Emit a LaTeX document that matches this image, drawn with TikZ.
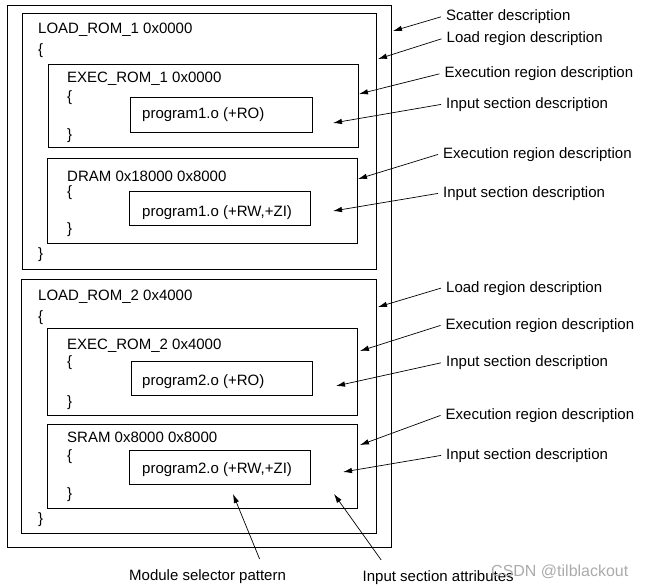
\documentclass[tikz,border=0pt]{standalone}
\usepackage{fontspec}
\setmainfont{Liberation Sans}
\usetikzlibrary{arrows.meta}
\begin{document}
\begin{tikzpicture}[x=1pt,y=-1pt,
  box/.style={draw,line width=1pt,inner sep=0pt,anchor=north west},
  txt/.style={inner sep=0pt,anchor=base west,font=\fontsize{15pt}{18pt}\selectfont},
  arr/.style={line width=0.7pt,-{Latex[length=9pt,width=5.5pt]}}]
\useasboundingbox (0,0) rectangle (645,586);
% boxes
\node[box,minimum width=384pt,minimum height=542pt] (outer) at (7,5) {};
\node[box,minimum width=354pt,minimum height=256pt] (load1) at (22,13) {};
\node[box,minimum width=310pt,minimum height=83pt] (exec1) at (48,64) {};
\node[box,minimum width=182pt,minimum height=35pt] (in1) at (130,97) {};
\node[box,minimum width=310pt,minimum height=85pt] (dram) at (47,158) {};
\node[box,minimum width=181pt,minimum height=34pt] (in2) at (129,191) {};
\node[box,minimum width=355pt,minimum height=254pt] (load2) at (21,279) {};
\node[box,minimum width=310pt,minimum height=87pt] (exec2) at (47,328) {};
\node[box,minimum width=181pt,minimum height=34pt] (in3) at (131,361) {};
\node[box,minimum width=310pt,minimum height=84pt] (sram) at (47,424) {};
\node[box,minimum width=181pt,minimum height=34pt] (in4) at (129,450) {};
% box texts
\node[txt] (l1t) at (38,34) {LOAD\_ROM\_1 0x0000};
\node[txt] (l1o) at (38,55) {\{};
\node[txt] (l1c) at (38,258) {\}};
\node[txt] (e1t) at (67,82.5) {EXEC\_ROM\_1 0x0000};
\node[txt] (e1o) at (67,101.5) {\{};
\node[txt] (e1c) at (67,139) {\}};
\node[txt] (p1) at (142,118.5) {program1.o (+RO)};
\node[txt] (d1t) at (67,181.5) {DRAM 0x18000 0x8000};
\node[txt] (d1o) at (67,196.5) {\{};
\node[txt] (d1c) at (67,233) {\}};
\node[txt] (p2) at (142,216.5) {program1.o (+RW,+ZI)};
\node[txt] (l2t) at (38,300.5) {LOAD\_ROM\_2 0x4000};
\node[txt] (l2o) at (38,321) {\{};
\node[txt] (l2c) at (38,523) {\}};
\node[txt] (e2t) at (67,349.3) {EXEC\_ROM\_2 0x4000};
\node[txt] (e2o) at (67,366.5) {\{};
\node[txt] (e2c) at (67,406.5) {\}};
\node[txt] (p3) at (142,385) {program2.o (+RO)};
\node[txt] (s1t) at (67,442.3) {SRAM 0x8000 0x8000};
\node[txt] (s1o) at (67,460) {\{};
\node[txt] (s1c) at (67,498) {\}};
\node[txt] (p4) at (142,473) {program2.o (+RW,+ZI)};
% labels
\node[txt] (a1) at (446,20.7) {Scatter description};
\node[txt] (a2) at (446.5,42.7) {Load region description};
\node[txt] (a3) at (444.5,77.7) {Execution region description};
\node[txt] (a4) at (446,108.3) {Input section description};
\node[txt] (a5) at (443,158.3) {Execution region description};
\node[txt] (a6) at (443,197.3) {Input section description};
\node[txt] (a7) at (446,292) {Load region description};
\node[txt] (a8) at (445.5,329.3) {Execution region description};
\node[txt] (a9) at (446,366.7) {Input section description};
\node[txt] (a10) at (445.5,419.3) {Execution region description};
\node[txt] (a11) at (446,459.3) {Input section description};
\node[txt] (mod) at (129,580) {Module selector pattern};
\node[txt] (att) at (362.5,581) {Input section attributes};
\node[txt,font=\fontsize{16pt}{18pt}\selectfont,text=black!33] (wm) at (491,576) {CSDN @tilblackout};
% arrow tips
\coordinate (t1) at (393,31);
\coordinate (t2) at (378,59);
\coordinate (t3) at (359,94);
\coordinate (t4) at (333,123);
\coordinate (t5) at (358,179);
\coordinate (t6) at (333,211);
\coordinate (t7) at (378,307);
\coordinate (t8) at (360,351);
\coordinate (t9) at (336,386);
\coordinate (t10) at (360,445);
\coordinate (t11) at (343,472);
\coordinate (t12) at (233,494);
\coordinate (t13) at (334,494);
% arrows
\draw[arr] ([xshift=-5pt]a1.west) -- (t1);
\draw[arr] ([xshift=-5pt]a2.west) -- (t2);
\draw[arr] ([xshift=-5pt]a3.west) -- (t3);
\draw[arr] ([xshift=-5pt]a4.west) -- (t4);
\draw[arr] ([xshift=-5pt]a5.west) -- (t5);
\draw[arr] ([xshift=-5pt]a6.west) -- (t6);
\draw[arr] ([xshift=-5pt]a7.west) -- (t7);
\draw[arr] ([xshift=-5pt]a8.west) -- (t8);
\draw[arr] ([xshift=-5pt]a9.west) -- (t9);
\draw[arr] ([xshift=-5pt]a10.west) -- (t10);
\draw[arr] ([xshift=-5pt]a11.west) -- (t11);
\draw[arr] ([xshift=52pt,yshift=10pt]mod.north) -- (t12);
\draw[arr] ([xshift=-57pt,yshift=10pt]att.north) -- (t13);
\end{tikzpicture}
\end{document}
